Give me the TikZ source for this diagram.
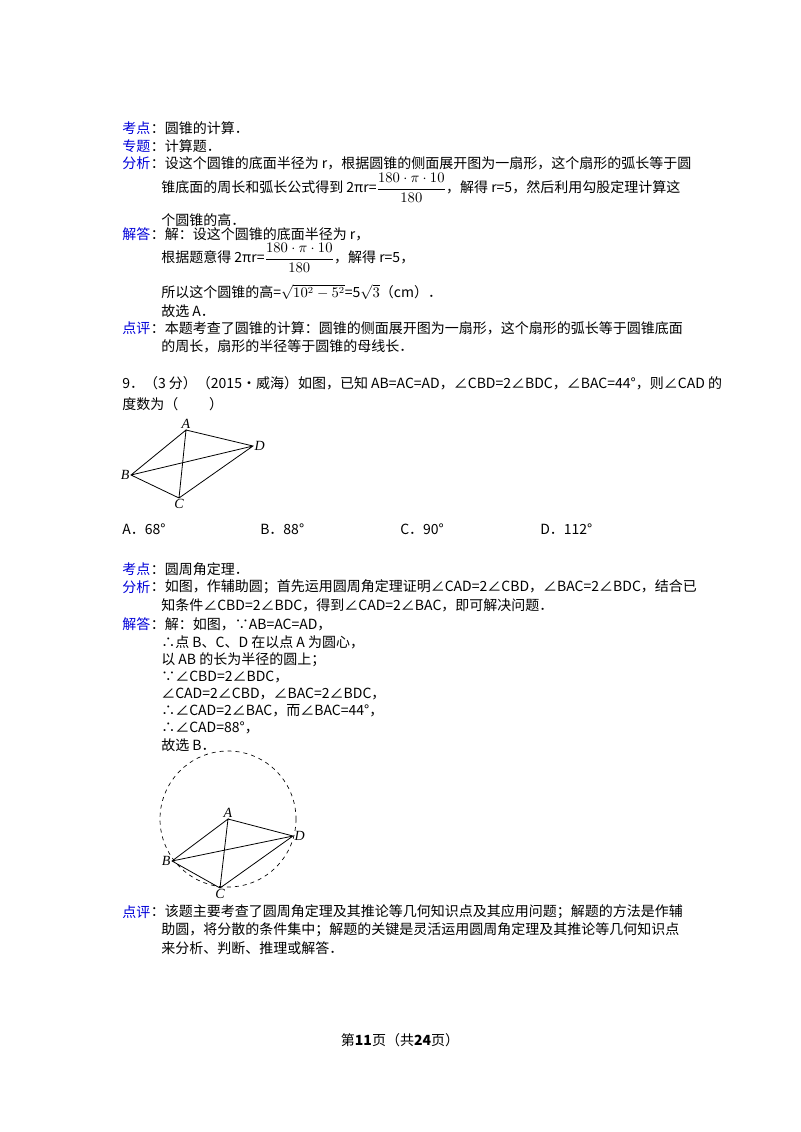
\documentclass[tikz,border=0pt]{standalone}
\usepackage{fontspec}
\setmainfont{Noto Sans CJK SC}
\newfontfamily\lat{Liberation Serif}
\usepackage{amsmath}
\begin{document}
\begin{tikzpicture}[x=0.75pt,y=-0.75pt,
  t/.style={anchor=west,inner sep=0pt,font=\fontsize{10.5}{13}\selectfont},
  lab/.style={t,text=blue!85!black},
  seg/.style={line width=0.6pt},
  pt/.style={font=\lat\fontsize{10.5}{12}\itshape\selectfont,inner sep=1pt}]
\useasboundingbox (0,0) rectangle (800,1132);
\fill[white] (0,0) rectangle (800,1132);
% part 1
\node[lab] (l1) at (122,128) {考点};
\node[t] (t1) at (l1.east) {：圆锥的计算．};
\node[lab] (l2) at (122,146) {专题};
\node[t] (t2) at (l2.east) {：计算题．};
\node[lab] (l3) at (122,163) {分析};
\node[t] (t3) at (l3.east) {：设这个圆锥的底面半径为 r，根据圆锥的侧面展开图为一扇形，这个扇形的弧长等于圆};
\node[t] (t4) at (161,188) {锥底面的周长和弧长公式得到 2πr=$\dfrac{180\cdot\pi\cdot10}{180}$，解得 r=5，然后利用勾股定理计算这};
\node[t] (t5) at (161,220) {个圆锥的高．};
\node[lab] (l4) at (122,234) {解答};
\node[t] (t6) at (l4.east) {：解：设这个圆锥的底面半径为 r，};
\node[t] (t7) at (161,258) {根据题意得 2πr=$\dfrac{180\cdot\pi\cdot10}{180}$，解得 r=5，};
\node[t] (t8) at (161,292) {所以这个圆锥的高=$\sqrt{10^2-5^2}$=5$\sqrt{3}$（cm）．};
\node[t] (t9) at (161,311) {故选 A．};
\node[lab] (l5) at (122,328) {点评};
\node[t] (t10) at (l5.east) {：本题考查了圆锥的计算：圆锥的侧面展开图为一扇形，这个扇形的弧长等于圆锥底面};
\node[t] (t11) at (161,346) {的周长，扇形的半径等于圆锥的母线长．};
% question 9
\node[t] (q1) at (122,383) {9．（3 分）（2015•威海）如图，已知 AB=AC=AD，∠CBD=2∠BDC，∠BAC=44°，则∠CAD 的};
\node[t] (q2) at (122,404) {度数为（\hspace{2.2em}）};
\coordinate (A) at (186,430); \coordinate (D) at (253,446);
\coordinate (B) at (131,475); \coordinate (C) at (179,498);
\draw[seg] (A)--(D)--(C)--(B)--(A)--(C) (B)--(D);
\node[pt,above] (nA) at (A) {A};
\node[pt,right] (nD) at (D) {D};
\node[pt,left] (nB) at (B) {B};
\node[pt,below] (nC) at (C) {C};
\node[t] (o1) at (122,529) {A．68°};
\node[t] (o2) at (260,529) {B．88°};
\node[t] (o3) at (400,529) {C．90°};
\node[t] (o4) at (540,529) {D．112°};
% analysis 2
\node[lab] (m1) at (122,569) {考点};
\node[t] (s1) at (m1.east) {：圆周角定理．};
\node[lab] (m2) at (122,587) {分析};
\node[t] (s2) at (m2.east) {：如图，作辅助圆；首先运用圆周角定理证明∠CAD=2∠CBD，∠BAC=2∠BDC，结合已};
\node[t] (s3) at (161,605) {知条件∠CBD=2∠BDC，得到∠CAD=2∠BAC，即可解决问题．};
\node[lab] (m3) at (122,624) {解答};
\node[t] (s4) at (m3.east) {：解：如图，∵AB=AC=AD，};
\node[t] (s5) at (161,642) {∴点 B、C、D 在以点 A 为圆心，};
\node[t] (s6) at (161,660) {以 AB 的长为半径的圆上；};
\node[t] (s7) at (161,677) {∵∠CBD=2∠BDC，};
\node[t] (s8) at (161,694) {∠CAD=2∠CBD，∠BAC=2∠BDC，};
\node[t] (s9) at (161,711) {∴∠CAD=2∠BAC，而∠BAC=44°，};
\node[t] (s10) at (161,728) {∴∠CAD=88°，};
\node[t] (s11) at (161,745) {故选 B．};
\coordinate (A2) at (228,819); \coordinate (D2) at (293,836);
\coordinate (B2) at (172,861); \coordinate (C2) at (220,888);
\draw[dashed,line width=0.5pt] (A2) circle[radius=68];
\draw[seg] (A2)--(D2)--(C2)--(B2)--(A2)--(C2) (B2)--(D2);
\node[pt,above] (nA2) at (A2) {A};
\node[pt,right] (nD2) at (D2) {D};
\node[pt,left] (nB2) at (B2) {B};
\node[pt,below] (nC2) at (C2) {C};
\node[lab] (m4) at (122,912) {点评};
\node[t] (s12) at (m4.east) {：该题主要考查了圆周角定理及其推论等几何知识点及其应用问题；解题的方法是作辅};
\node[t] (s13) at (161,930) {助圆，将分散的条件集中；解题的关键是灵活运用圆周角定理及其推论等几何知识点};
\node[t] (s14) at (161,948) {来分析、判断、推理或解答．};
\node[t,anchor=center] (foot) at (400,1040) {第\textbf{11}页（共\textbf{24}页）};
\end{tikzpicture}
\end{document}
